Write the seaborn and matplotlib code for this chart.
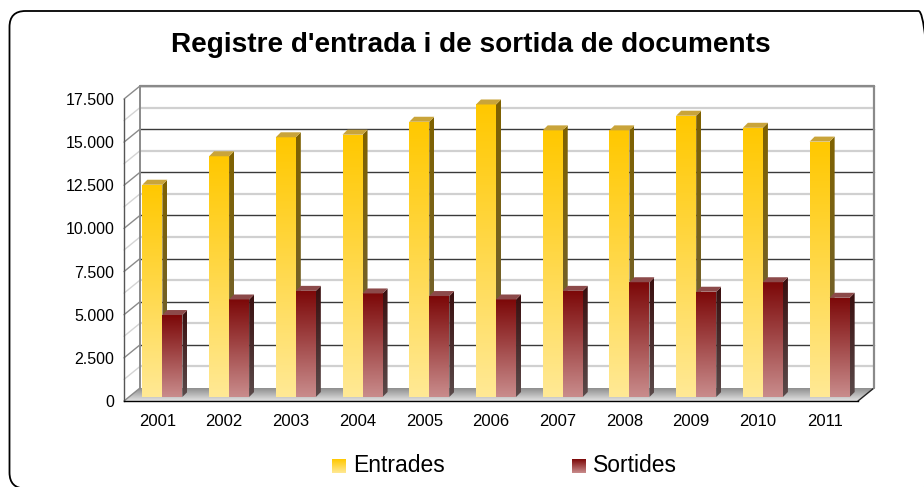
import numpy as np
import pandas as pd
import matplotlib
matplotlib.use('Agg')
import matplotlib.pyplot as plt
import seaborn as sns
from matplotlib.patches import Polygon, FancyBboxPatch
from matplotlib.colors import LinearSegmentedColormap
from matplotlib.transforms import offset_copy

# Dades llegides del gràfic
anys = ['2001', '2002', '2003', '2004', '2005', '2006', '2007', '2008', '2009', '2010', '2011']
entrades = [12300, 13950, 15050, 15200, 15950, 16950, 15450, 15450, 16300, 15600, 14800]
sortides = [4750, 5650, 6150, 6000, 5850, 5650, 6150, 6650, 6100, 6650, 5750]
series = ['Entrades', 'Sortides']
yticks = [0, 2500, 5000, 7500, 10000, 12500, 15000, 17500]
minor_step = 1250

titol = "Registre d'entrada i de sortida de documents"

# colors (front top, front bottom, side top, side bottom, top face)
colors = {
    'Entrades': ('#ffc800', '#ffe995', '#7f6200', '#6c6040', '#c9a43a'),
    'Sortides': ('#7c0808', '#c98c8c', '#3a0e0e', '#5a4a4a', '#8c4a4a'),
}

W, H = 924, 487
sns.set_style('white')
plt.rcParams['font.family'] = ['Liberation Sans', 'DejaVu Sans']
plt.rcParams['text.color'] = 'black'
plt.rcParams['xtick.labelcolor'] = 'black'
plt.rcParams['ytick.labelcolor'] = 'black'

fig = plt.figure(figsize=(W / 100, H / 100), dpi=100)

# capes: fons (parets i terra), eix principal, capa frontal (cares 3D)
bg = fig.add_axes([0, 0, 1, 1], zorder=0)
ax = fig.add_axes([124 / W, (H - 401) / H, (858 - 124) / W, (401 - 99) / H], zorder=1)
fg = fig.add_axes([0, 0, 1, 1], zorder=2)
for a in (bg, fg):
    a.set_xlim(0, W)
    a.set_ylim(0, H)
    a.set_axis_off()
    a.set_autoscale_on(False)
    a.patch.set_alpha(0)
ax.patch.set_alpha(0)

df = pd.DataFrame({
    'any': anys * 2,
    'valor': entrades + sortides,
    'serie': ['Entrades'] * len(anys) + ['Sortides'] * len(anys),
})
sns.barplot(data=df, x='any', y='valor', hue='serie', order=anys, hue_order=series,
            palette={s: colors[s][1] for s in series}, width=0.6, saturation=1,
            edgecolor='none', legend=False, ax=ax)

ax.set_xlim(-0.5, len(anys) - 0.5)
ax.set_ylim(0, yticks[-1])
ax.set_yticks(yticks)
ax.set_yticklabels([f'{v:,}'.replace(',', '.') for v in yticks], fontsize=11.5)
ax.set_xticks(range(len(anys)))
ax.set_xticklabels(anys, fontsize=12)
ax.set_xticks(np.arange(-0.5, len(anys)), minor=True)
ax.tick_params(axis='x', which='major', length=0, pad=9, labelcolor='black')
ax.tick_params(axis='x', which='minor', length=5, width=1, color='black', direction='out')
ax.tick_params(axis='y', length=4, width=1, color='black', direction='out', pad=3, labelcolor='black')
ax.set_xlabel('')
ax.set_ylabel('')
for s in ['top', 'right']:
    ax.spines[s].set_visible(False)
ax.spines['left'].set_color('#555555')
ax.spines['bottom'].set_color('black')
ax.spines['left'].set_linewidth(1)
ax.spines['bottom'].set_linewidth(1)


def px(x, y):
    return ax.transData.transform((x, y))


def grad_fill(axx, verts, c_top, c_bot, zorder=3):
    poly = Polygon(verts, closed=True, facecolor='none', edgecolor='none')
    axx.add_patch(poly)
    xs = [v[0] for v in verts]
    ys = [v[1] for v in verts]
    cmap = LinearSegmentedColormap.from_list('g', [c_bot, c_top])
    grad = np.linspace(0, 1, 128).reshape(-1, 1)
    im = axx.imshow(grad, cmap=cmap, extent=[min(xs), max(xs), min(ys), max(ys)],
                    origin='lower', aspect='auto', zorder=zorder, interpolation='bilinear')
    im.set_clip_path(poly)
    return im


# geometria de les parets
wdx, wdy = 16, 13  # profunditat de la paret del fons
x_left, y0 = px(-0.5, 0)
x_right, _ = px(len(anys) - 0.5, 0)
_, y_top = px(-0.5, yticks[-1])

# terra
floor = [(x_left, y0), (x_right, y0), (x_right + wdx, y0 + wdy), (x_left + wdx, y0 + wdy)]
grad_fill(bg, floor, '#8e8e8e', '#e2e2e2', zorder=1)
bg.plot([x_right, x_right + wdx], [y0, y0 + wdy], color='#222222', lw=1, zorder=2)

# línies de la paret del fons i de la paret lateral
for v in np.arange(0, yticks[-1] + 1, minor_step):
    _, yv = px(-0.5, v)
    major = v % 2500 == 0
    if v > 0:
        bg.plot([x_left + wdx, x_right + wdx], [yv + wdy, yv + wdy],
                color='#3a3a3a' if major else '#d0d0d0',
                lw=1.0 if major else 1.6, zorder=2)
    bg.plot([x_left, x_left + wdx], [yv, yv + wdy],
            color='#8a8a8a' if major else '#d4d4d4', lw=1.0, zorder=2)
bg.plot([x_left + wdx, x_right + wdx], [y_top + wdy, y_top + wdy], color='#8a8a8a', lw=1.6, zorder=2)
bg.plot([x_left + wdx, x_left + wdx], [y0 + wdy, y_top + wdy], color='#8a8a8a', lw=1.4, zorder=2)
bg.plot([x_right + wdx, x_right + wdx], [y0 + wdy, y_top + wdy], color='#8a8a8a', lw=1.6, zorder=2)

# marc arrodonit
frame = FancyBboxPatch((9.5, -1.5), 925, 477.5, boxstyle='round,pad=0,rounding_size=16',
                       facecolor='none', edgecolor='black', lw=1.3, clip_on=False, zorder=5)
bg.add_patch(frame)

# barres: desplaçament cap al fons i cares 3D
bar_tr = offset_copy(ax.transData, fig=fig, x=5, y=4, units='dots')
bdx, bdy = 5, 5
n = len(anys)
bars = {s: sorted(ax.patches[i * n:(i + 1) * n], key=lambda p: p.get_x()) for i, s in enumerate(series)}
z = 3
for k in range(n):
    for s in series:
        p = bars[s][k]
        p.set_transform(bar_tr)
        ft, fb, st, sb, tc = colors[s]
        (x0, yb), (x1, yt) = bar_tr.transform([(p.get_x(), p.get_y()),
                                               (p.get_x() + p.get_width(), p.get_y() + p.get_height())])
        grad_fill(fg, [(x0, yb), (x1, yb), (x1, yt), (x0, yt)], ft, fb, zorder=z)
        grad_fill(fg, [(x1, yb), (x1 + bdx, yb + bdy), (x1 + bdx, yt + bdy), (x1, yt)], st, sb, zorder=z)
        fg.add_patch(Polygon([(x0, yt), (x1, yt), (x1 + bdx, yt + bdy), (x0 + bdx, yt + bdy)],
                             closed=True, facecolor=tc, edgecolor='none', zorder=z))
        z += 1

# títol
fig.text(471 / W, 1 - 45 / H, titol, ha='center', va='center', fontsize=20.2,
         fontweight='bold', color='black')

# llegenda
for s, xs, xt in zip(series, [332, 572], [353, 593]):
    ft, fb = colors[s][0], colors[s][1]
    grad_fill(fg, [(xs, 14), (xs + 14, 14), (xs + 14, 28), (xs, 28)], ft, fb, zorder=50)
    fig.text(xt / W, 14.5 / H, s, ha='left', va='baseline', fontsize=16.5, color='black')

fig.savefig('out.png', dpi=100)
